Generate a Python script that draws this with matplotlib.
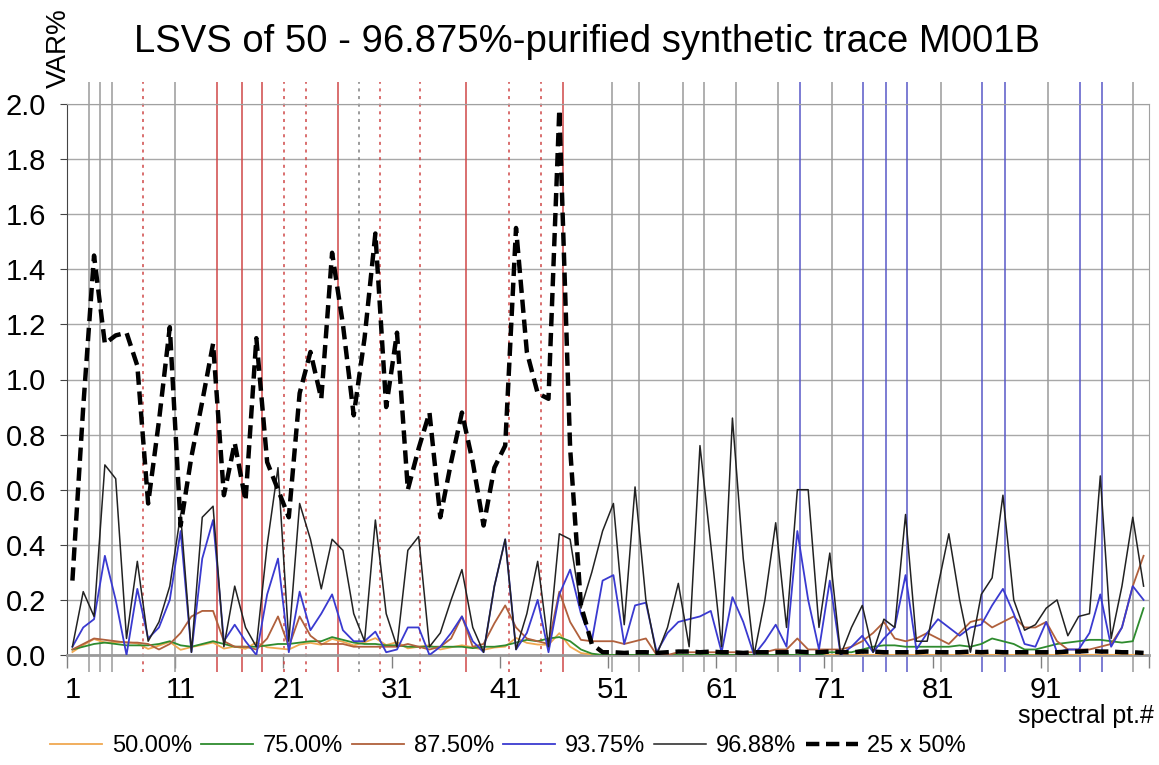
import numpy as np
import matplotlib.pyplot as plt

plt.rcParams['font.family'] = ['Liberation Sans', 'DejaVu Sans']

# spectral points 1..100
pts = np.arange(1, 101)

# VAR% per spectral point for each purification level
p50 = [0.0108, 0.0360, 0.0580, 0.0452, 0.0464, 0.0468, 0.0420, 0.0220, 0.0340, 0.0476,
       0.0188, 0.0288, 0.0368, 0.0452, 0.0232, 0.0308, 0.0224, 0.0460, 0.0280, 0.0240,
       0.0200, 0.0380, 0.0440, 0.0372, 0.0584, 0.0480, 0.0348, 0.0460, 0.0612, 0.0360,
       0.0468, 0.0240, 0.0300, 0.0352, 0.0200, 0.0280, 0.0352, 0.0280, 0.0188, 0.0272,
       0.0304, 0.0620, 0.0440, 0.0380, 0.0372, 0.0792, 0.0300, 0.0072, 0.0016, 0.0004,
       0.0004, 0.0003, 0.0004, 0.0004, 0.0003, 0.0004, 0.0005, 0.0005, 0.0004, 0.0005,
       0.0004, 0.0004, 0.0003, 0.0004, 0.0004, 0.0004, 0.0004, 0.0005, 0.0004, 0.0004,
       0.0005, 0.0004, 0.0004, 0.0005, 0.0005, 0.0004, 0.0004, 0.0004, 0.0004, 0.0005,
       0.0004, 0.0004, 0.0004, 0.0005, 0.0004, 0.0005, 0.0004, 0.0004, 0.0004, 0.0004,
       0.0004, 0.0004, 0.0005, 0.0005, 0.0006, 0.0005, 0.0005, 0.0004, 0.0004, 0.0003]

p75 = [0.02, 0.03, 0.04, 0.045, 0.04, 0.035, 0.035, 0.035, 0.04, 0.05,
       0.035, 0.03, 0.04, 0.05, 0.04, 0.03, 0.03, 0.03, 0.035, 0.04,
       0.04, 0.045, 0.05, 0.05, 0.065, 0.055, 0.045, 0.04, 0.04, 0.035,
       0.035, 0.03, 0.03, 0.03, 0.03, 0.03, 0.03, 0.025, 0.03, 0.03,
       0.035, 0.045, 0.055, 0.05, 0.06, 0.065, 0.05, 0.02, 0.005, 0.0,
       0.0, 0.0, 0.0, 0.0, 0.0, 0.0, 0.0, 0.0, 0.0, 0.0,
       0.0, 0.0, 0.0, 0.0, 0.0, 0.0, 0.0, 0.0, 0.0, 0.0,
       0.01, 0.01, 0.01, 0.02, 0.03, 0.035, 0.035, 0.03, 0.03, 0.03,
       0.03, 0.03, 0.035, 0.03, 0.04, 0.06, 0.05, 0.04, 0.02, 0.02,
       0.03, 0.04, 0.045, 0.05, 0.055, 0.055, 0.05, 0.045, 0.05, 0.17]

p875 = [0.02, 0.04, 0.06, 0.055, 0.05, 0.045, 0.045, 0.04, 0.02, 0.04,
        0.08, 0.14, 0.16, 0.16, 0.05, 0.03, 0.03, 0.02, 0.06, 0.14,
        0.03, 0.14, 0.07, 0.04, 0.04, 0.04, 0.03, 0.03, 0.03, 0.03,
        0.03, 0.04, 0.03, 0.02, 0.03, 0.06, 0.14, 0.03, 0.04, 0.115,
        0.18, 0.10, 0.06, 0.05, 0.04, 0.23, 0.12, 0.055, 0.05, 0.05,
        0.05, 0.04, 0.05, 0.06, 0.00, 0.00, 0.01, 0.01, 0.01, 0.01,
        0.01, 0.01, 0.01, 0.01, 0.01, 0.02, 0.02, 0.06, 0.02, 0.02,
        0.02, 0.02, 0.03, 0.05, 0.08, 0.12, 0.06, 0.05, 0.06, 0.08,
        0.06, 0.04, 0.08, 0.12, 0.13, 0.10, 0.12, 0.14, 0.10, 0.10,
        0.12, 0.05, 0.02, 0.02, 0.02, 0.03, 0.04, 0.10, 0.25, 0.36]

p9375 = [0.03, 0.10, 0.13, 0.36, 0.20, 0.00, 0.24, 0.06, 0.10, 0.20,
         0.45, 0.01, 0.35, 0.49, 0.05, 0.11, 0.05, 0.00, 0.22, 0.35,
         0.01, 0.23, 0.09, 0.15, 0.22, 0.09, 0.05, 0.05, 0.085, 0.01,
         0.02, 0.10, 0.10, 0.00, 0.03, 0.08, 0.14, 0.05, 0.01, 0.25,
         0.42, 0.02, 0.08, 0.20, 0.01, 0.22, 0.31, 0.15, 0.05, 0.27,
         0.29, 0.04, 0.18, 0.19, 0.01, 0.08, 0.12, 0.13, 0.14, 0.16,
         0.01, 0.21, 0.12, 0.00, 0.05, 0.11, 0.03, 0.45, 0.20, 0.02,
         0.27, 0.00, 0.03, 0.07, 0.01, 0.06, 0.10, 0.29, 0.02, 0.08,
         0.13, 0.10, 0.07, 0.10, 0.11, 0.18, 0.24, 0.15, 0.04, 0.03,
         0.12, 0.01, 0.02, 0.02, 0.08, 0.22, 0.03, 0.10, 0.25, 0.20]

p9688 = [0.03, 0.23, 0.14, 0.69, 0.64, 0.06, 0.34, 0.05, 0.12, 0.25,
         0.51, 0.01, 0.50, 0.54, 0.03, 0.25, 0.10, 0.03, 0.40, 0.68,
         0.05, 0.55, 0.42, 0.24, 0.42, 0.38, 0.15, 0.05, 0.49, 0.15,
         0.03, 0.38, 0.43, 0.03, 0.08, 0.20, 0.31, 0.10, 0.01, 0.25,
         0.42, 0.02, 0.15, 0.34, 0.03, 0.44, 0.42, 0.17, 0.30, 0.45,
         0.55, 0.11, 0.61, 0.20, 0.00, 0.10, 0.26, 0.03, 0.76, 0.40,
         0.03, 0.86, 0.35, 0.00, 0.20, 0.48, 0.10, 0.60, 0.60, 0.10,
         0.37, 0.00, 0.10, 0.18, 0.01, 0.13, 0.10, 0.51, 0.05, 0.05,
         0.25, 0.44, 0.20, 0.01, 0.22, 0.28, 0.58, 0.20, 0.09, 0.11,
         0.17, 0.20, 0.07, 0.14, 0.15, 0.65, 0.06, 0.25, 0.50, 0.25]

# marker lines (spectral pt. positions)
gray_lines = [2.56, 3.55, 4.66, 10.48, 50.87, 53.4, 57.4, 59.4, 62.3, 66.2, 71.2, 81.3, 91.2, 99.0]
gray_dotted = [27.49]
red_lines = [14.36, 16.67, 18.52, 25.55, 37.38, 46.34]
red_dotted = [7.52, 20.55, 22.59, 29.43, 33.1, 41.35, 44.3]
blue_lines = [68.2, 74.1, 76.2, 78.1, 85.1, 87.2, 94.1, 96.2]

fig = plt.figure(figsize=(11.59, 7.65), dpi=100)
ax = fig.add_axes([67 / 1159, 1 - 655 / 765, (1149 - 67) / 1159, (655 - 104) / 765])

ax.set_xlim(0.5, 100.5)
ax.set_ylim(0, 2.0)

# vertical marker lines, running past the plot edges
vk = dict(ymin=-0.06, ymax=2.08, lw=1.1, clip_on=False, zorder=1)
ax.vlines(gray_lines, colors='#9a9a9a', **vk)
ax.vlines(gray_dotted, colors='#808080', linestyles=(0, (2, 3)), **vk)
ax.vlines(red_lines, colors='#d04848', **vk)
ax.vlines(red_dotted, colors='#d04848', linestyles=(0, (2, 3)), **vk)
ax.vlines(blue_lines, colors='#5858c8', **vk)

ax.plot(pts, p50, color='#f0a850', lw=1.3, label='50.00%', zorder=3)
ax.plot(pts, p75, color='#2e8b2e', lw=1.3, label='75.00%', zorder=3)
ax.plot(pts, p875, color='#b0603c', lw=1.3, label='87.50%', zorder=3)
ax.plot(pts, p9375, color='#3a3ad0', lw=1.3, label='93.75%', zorder=4)
ax.plot(pts, p9688, color='#222222', lw=1.1, label='96.88%', zorder=4)
ax.plot(pts, 25 * np.array(p50), color='black', lw=3.2, ls=(0, (3, 1.5)),
        label='25 x 50%', zorder=5)

# axes styling
ax.set_yticks(np.arange(0, 2.01, 0.2))
ax.set_yticklabels([f'{v:.1f}' for v in np.arange(0, 2.01, 0.2)])
ax.set_xticks(np.arange(1, 101, 10))
ax.set_xticks(np.arange(0.5, 101, 10), minor=True)
ax.tick_params(axis='x', which='major', length=0, pad=15, labelsize=21)
ax.tick_params(axis='x', which='minor', length=9, color='#808080', width=1)
ax.tick_params(axis='y', length=5, pad=10, labelsize=21, color='#444444')
ax.yaxis.grid(True, color='#a8a8a8', lw=1)
ax.set_axisbelow(True)
for s in ['top', 'right']:
    ax.spines[s].set_color('#a0a0a0')
ax.spines['left'].set_color('#444444')
ax.spines['bottom'].set_color('#9a9a9a')
ax.spines['bottom'].set_linewidth(2)

fig.text(587 / 1159, 1 - 42 / 765, 'LSVS of 50 - 96.875%-purified synthetic trace M001B',
         ha='center', va='center', fontsize=27.5)
fig.text(59 / 1159, 1 - 48 / 765, 'VAR%', rotation=90, ha='center', va='center', fontsize=20)
fig.text(1154 / 1159, 1 - 716 / 765, 'spectral pt.#', ha='right', va='center', fontsize=18)

fig.legend(loc='center', bbox_to_anchor=(508 / 1159, 1 - 746 / 765), ncol=6,
           frameon=False, fontsize=17, handlelength=2.2, handletextpad=0.4,
           columnspacing=0.4)

fig.savefig('out.png', dpi=100)
